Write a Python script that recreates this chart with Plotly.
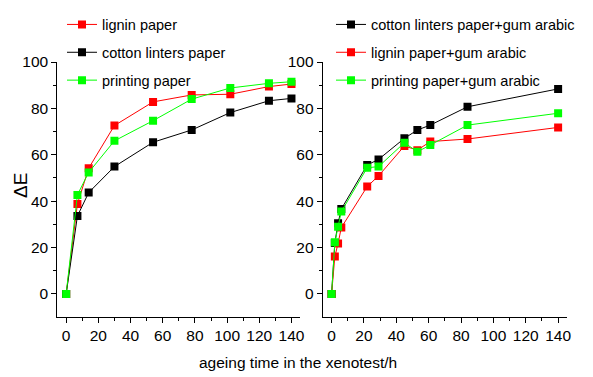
import plotly.graph_objects as go

# ---- data ----
t_left = [0, 7, 14, 30, 54, 78, 102, 126, 140]
lignin = [0, 38.8, 54.2, 72.6, 82.8, 85.8, 86.1, 89.4, 90.5]
cotton = [0, 33.6, 43.7, 54.9, 65.4, 70.7, 78.2, 83.3, 84.3]
printing = [0, 42.7, 52.4, 66.0, 74.7, 84.0, 88.8, 90.8, 91.5]

t_right = [0, 2, 4, 6, 22, 29, 45, 53, 61, 84, 140]
cotton_ga = [0, 22.0, 30.5, 36.6, 55.6, 58.0, 67.1, 70.7, 72.8, 80.7, 88.4]
lignin_ga = [0, 16.1, 21.8, 28.6, 46.3, 50.9, 63.8, 62.0, 65.7, 66.8, 71.8]
printing_ga = [0, 22.3, 29.0, 35.5, 54.4, 54.9, 65.2, 61.3, 64.2, 72.8, 77.9]

x_ticks = [0, 20, 40, 60, 80, 100, 120, 140]
y_ticks = [0, 20, 40, 60, 80, 100]

RED = "#FF0000"
BLACK = "#000000"
GREEN = "#00FF00"
FONT = "Liberation Sans, Arial"

# window is 593x377; the page body has an 8px default margin
WIN_W, WIN_H = 593, 377
OFF = 8
W, H = WIN_W - OFF, WIN_H - OFF

fig = go.Figure()

def add(x, y, name, color, xa, ya, leg):
    fig.add_trace(go.Scatter(
        x=x, y=y, name=name, mode="lines+markers",
        line=dict(color=color, width=1),
        marker=dict(symbol="square", size=8, color=color),
        xaxis=xa, yaxis=ya, legend=leg, legendgroup=name,
    ))

add(t_left, lignin, "lignin paper", RED, "x", "y", "legend")
add(t_left, cotton, "cotton linters paper", BLACK, "x", "y", "legend")
add(t_left, printing, "printing paper", GREEN, "x", "y", "legend")

add(t_right, cotton_ga, "cotton linters paper+gum arabic", BLACK, "x2", "y2", "legend2")
add(t_right, lignin_ga, "lignin paper+gum arabic", RED, "x2", "y2", "legend2")
add(t_right, printing_ga, "printing paper+gum arabic", GREEN, "x2", "y2", "legend2")

def px(v):
    return (v - OFF) / W

def py(v):
    return 1 - (v - OFF) / H

TICKFONT = dict(family=FONT, size=15.5, color="black")
xcommon = dict(
    range=[-5.5, 145.3], tickvals=x_ticks, ticks="outside", ticklen=5, tickangle=0,
    tickcolor="black", showline=True, linecolor="black", linewidth=1,
    showgrid=False, zeroline=False, tickfont=TICKFONT,
    minor=dict(ticks="outside", ticklen=3, dtick=10, tick0=0, tickcolor="black"),
    automargin=False,
)
ycommon = dict(
    range=[-9.8, 100], tickvals=y_ticks, ticks="outside", ticklen=5,
    tickcolor="black", showline=True, linecolor="black", linewidth=1,
    showgrid=False, zeroline=False, tickfont=TICKFONT,
    minor=dict(ticks="outside", ticklen=3, dtick=10, tick0=0, tickcolor="black"),
    automargin=False,
)

LEGFONT = dict(family=FONT, size=14.5, color="black")
fig.update_layout(
    width=W, height=H,
    margin=dict(l=0, r=0, t=0, b=0),
    paper_bgcolor="white", plot_bgcolor="white",
    font=dict(family=FONT, size=15, color="black"),
    xaxis=dict(domain=[px(57.3), px(300)], anchor="y", **xcommon),
    yaxis=dict(domain=[py(316.7), py(62)], anchor="x", **ycommon),
    xaxis2=dict(domain=[px(322.7), px(566.7)], anchor="y2", **xcommon),
    yaxis2=dict(domain=[py(316.7), py(62)], anchor="x2", **ycommon),
    legend=dict(x=px(62), y=py(8.5), xanchor="left", yanchor="top",
                traceorder="grouped", tracegroupgap=6,
                bgcolor="rgba(0,0,0,0)", font=LEGFONT),
    legend2=dict(x=px(331), y=py(8.5), xanchor="left", yanchor="top",
                 traceorder="grouped", tracegroupgap=6,
                 bgcolor="rgba(0,0,0,0)", font=LEGFONT),
    showlegend=True,
    annotations=[
        dict(text="ageing time in the xenotest/h", x=px(298.3), y=py(362),
             xref="paper", yref="paper", xanchor="center", yanchor="middle",
             showarrow=False, font=dict(family=FONT, size=15.5, color="black")),
        dict(text="ΔE", x=px(21), y=py(186), textangle=-90,
             xref="paper", yref="paper", xanchor="center", yanchor="middle",
             showarrow=False, font=dict(family=FONT, size=19, color="black")),
    ],
)

fig.write_html("out.html")
